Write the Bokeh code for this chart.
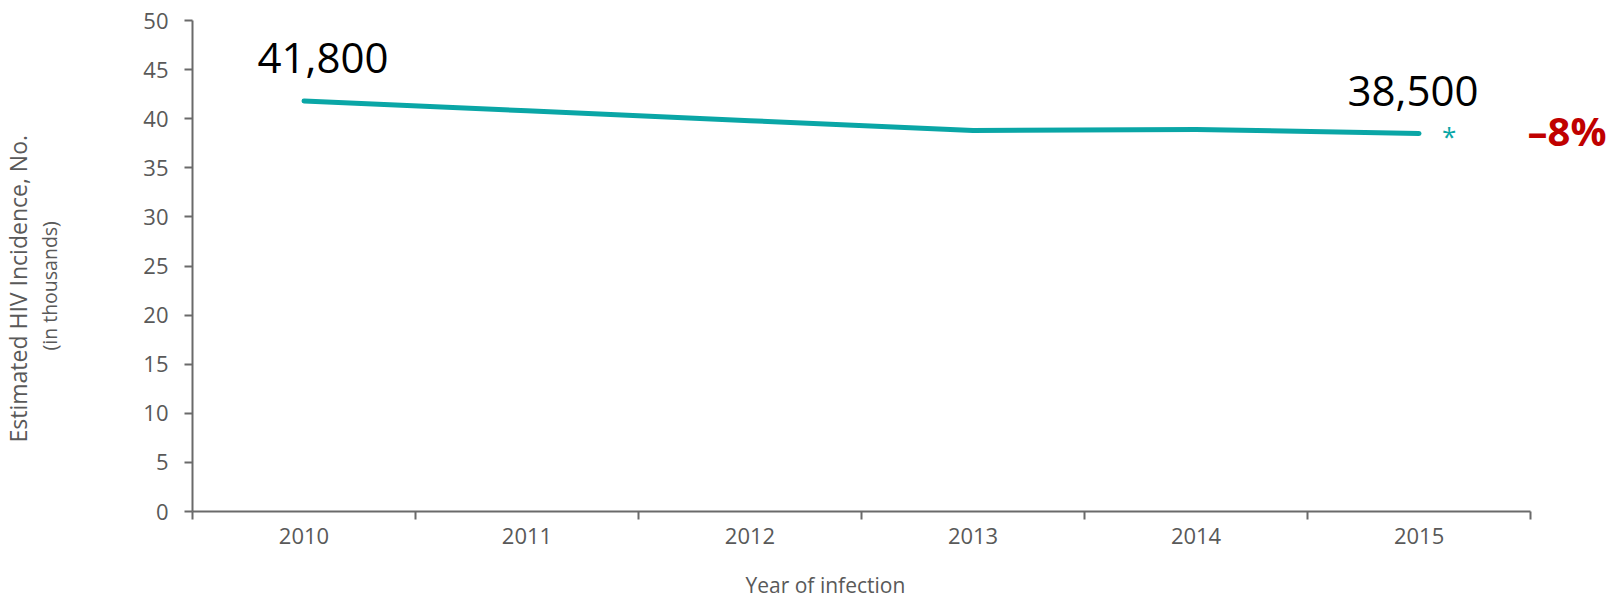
import numpy as np
from bokeh.plotting import figure
from bokeh.models import Range1d, FixedTicker, Label, Title
from bokeh.embed import file_html
from bokeh.resources import INLINE

# ---- data ----
years = ["2010", "2011", "2012", "2013", "2014", "2015"]
incidence = [41.8, 40.8, 39.8, 38.8, 38.9, 38.5]   # thousands
y_ticks = [0, 5, 10, 15, 20, 25, 30, 35, 40, 45, 50]

TEAL = "#0AA6A6"
AXIS = "#6a6a6a"
TXT = "#595959"
FONT = "Open Sans"

n = len(years)
xs = np.arange(n) + 0.5

# frame spans to the right edge so the right-hand annotation is not clipped;
# the x axis itself is bounded to the categories
p = figure(width=1611, height=598, output_backend="svg", toolbar_location=None,
           x_range=Range1d(0, n * 1420 / 1339), y_range=Range1d(0, 50))
p.min_border_left = 191
p.min_border_right = 0
p.min_border_top = 20
p.min_border_bottom = 87
p.outline_line_color = None
p.xgrid.visible = False
p.ygrid.visible = False
p.background_fill_color = "white"
p.border_fill_color = "white"

xa = p.xaxis[0]
xa.bounds = (0, n)
xa.ticker = FixedTicker(ticks=list(xs), minor_ticks=list(range(n + 1)))
xa.major_label_overrides = {float(x): y for x, y in zip(xs, years)}
xa.major_tick_out = 0
xa.major_tick_in = 0
xa.minor_tick_out = 8
xa.minor_tick_in = 0
xa.minor_tick_line_color = AXIS
xa.minor_tick_line_width = 2
xa.axis_line_color = AXIS
xa.axis_line_width = 2
xa.major_label_text_font = FONT
xa.major_label_text_font_size = "22px"
xa.major_label_text_color = TXT
xa.major_label_standoff = 8

ya = p.yaxis[0]
ya.ticker = FixedTicker(ticks=y_ticks, minor_ticks=[])
ya.major_tick_out = 8
ya.major_tick_in = 0
ya.major_tick_line_color = AXIS
ya.major_tick_line_width = 2
ya.minor_tick_out = 0
ya.minor_tick_in = 0
ya.axis_line_color = AXIS
ya.axis_line_width = 2
ya.major_label_text_font = FONT
ya.major_label_text_font_size = "22px"
ya.major_label_text_color = TXT
ya.major_label_standoff = 16

# blank spacer titles push the axis titles outward
p.add_layout(Title(text=" ", standoff=74, text_font_size="1px",
                   text_color="white"), "left")
p.add_layout(Title(text="(in thousands)", align="left", offset=161,
                   vertical_align="middle", standoff=0, text_font=FONT,
                   text_font_size="19.5px", text_font_style="normal",
                   text_color=TXT), "left")
p.add_layout(Title(text="Estimated HIV Incidence, No.", align="left", offset=69,
                   vertical_align="middle", standoff=0, text_font=FONT,
                   text_font_size="23px", text_font_style="normal",
                   text_color=TXT), "left")
p.add_layout(Title(text=" ", standoff=19, text_font_size="1px",
                   text_color="white"), "below")
p.add_layout(Title(text="Year of infection", align="left", offset=553,
                   vertical_align="bottom", standoff=0, text_font=FONT,
                   text_font_size="21px", text_font_style="normal",
                   text_color=TXT), "below")

# series line
p.line(xs, incidence, line_color=TEAL, line_width=5, line_cap="round", line_join="round")

# value annotations
first, last = incidence[0], incidence[-1]
pct = round(100 * (last - first) / first)
p.add_layout(Label(x=xs[0], y=first, x_offset=19, y_offset=43,
                   text=f"{int(round(first * 1000)):,}", text_align="center",
                   text_baseline="middle", text_font=FONT,
                   text_font_size="42px", text_color="black"))
p.add_layout(Label(x=xs[-1], y=last, x_offset=-6, y_offset=42,
                   text=f"{int(round(last * 1000)):,}", text_align="center",
                   text_baseline="middle", text_font=FONT,
                   text_font_size="42px", text_color="black"))
p.add_layout(Label(x=xs[-1], y=last, x_offset=30, y_offset=-3,
                   text="*", text_align="center", text_baseline="middle",
                   text_font=FONT, text_font_size="26px", text_color=TEAL))
p.add_layout(Label(x=xs[-1], y=last, x_offset=148, y_offset=3,
                   text=f"\u2013{abs(pct)}%", text_align="center",
                   text_baseline="middle", text_font=FONT,
                   text_font_size="40px", text_font_style="bold",
                   text_color="#C00000"))

open("out.html", "w").write(file_html(p, INLINE))
